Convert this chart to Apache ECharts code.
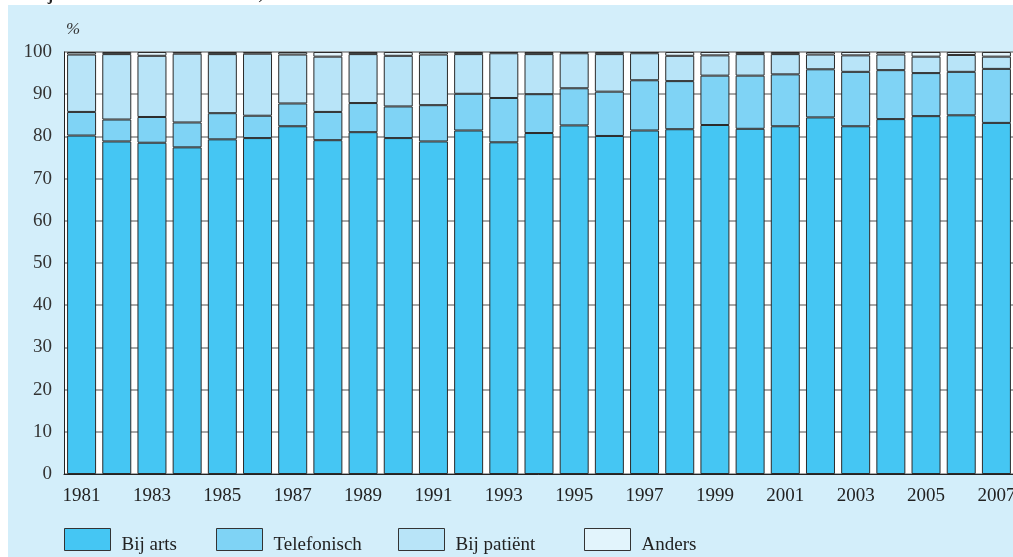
<!DOCTYPE html>
<html>
<head>
<meta charset="utf-8">
<script src="https://cdn.jsdelivr.net/npm/echarts@6/dist/echarts.min.js"></script>
<style>
  html, body { margin: 0; padding: 0; background: #ffffff; }
  #chart { width: 1013px; height: 557px; }
</style>
</head>
<body>
<div id="chart"></div>
<script>
// Wijze van contact met de huisarts, 1981-2007 (percentages per jaar)
const years = ['1981','1982','1983','1984','1985','1986','1987','1988','1989','1990',
  '1991','1992','1993','1994','1995','1996','1997','1998','1999','2000',
  '2001','2002','2003','2004','2005','2006','2007'];

const bijArts = [80.2, 78.8, 78.5, 77.4, 79.3, 79.6, 82.4, 79.1, 81.0, 79.6,
  78.8, 81.4, 78.6, 80.8, 82.6, 80.1, 81.4, 81.7, 82.7, 81.8,
  82.4, 84.5, 82.4, 84.1, 84.8, 85.0, 83.2];
const telefonisch = [5.6, 5.2, 6.1, 5.9, 6.2, 5.3, 5.4, 6.7, 6.9, 7.5,
  8.6, 8.7, 10.5, 9.2, 8.8, 10.5, 11.9, 11.4, 11.7, 12.6,
  12.3, 11.4, 12.9, 11.6, 10.2, 10.3, 12.8];
const bijPatient = [13.6, 15.5, 14.5, 16.3, 14.0, 14.7, 11.6, 13.1, 11.6, 12.0,
  12.0, 9.4, 10.6, 9.5, 8.3, 8.9, 6.4, 6.0, 4.8, 5.1,
  4.8, 3.5, 3.9, 3.7, 3.9, 4.0, 2.9];
const anders = [0.6, 0.5, 0.9, 0.4, 0.5, 0.4, 0.6, 1.1, 0.5, 0.9,
  0.6, 0.5, 0.3, 0.5, 0.3, 0.5, 0.3, 0.9, 0.8, 0.5,
  0.5, 0.6, 0.8, 0.6, 1.1, 0.7, 1.1];

const seriesNames = ['Bij arts', 'Telefonisch', 'Bij patiënt', 'Anders'];
const seriesColors = ['#45c6f3', '#7fd3f5', '#b8e4f8', '#e2f4fc'];
const yTicks = { min: 0, max: 100, step: 10 };

const serif = '"Liberation Serif", "DejaVu Serif", serif';
const chart = echarts.init(document.getElementById('chart'), null, { renderer: 'canvas' });

const values = [bijArts, telefonisch, bijPatient, anders];
const legendLefts = [64, 216, 398, 584];

const option = {
  backgroundColor: '#ffffff',
  animation: false,
  graphic: [
    { type: 'rect', z: -10, shape: { x: 8, y: 5, width: 1010, height: 560 },
      style: { fill: '#d3eefa' } },
    { type: 'text', left: 0, top: -12,
      style: { text: 'C2. Wijze van contact met de huisarts, aandelen',
        font: 'bold 16px ' + serif, fill: '#222' } },
    { type: 'text', left: 66, top: 21,
      style: { text: '%', font: 'italic 17px ' + serif, fill: '#333' } }
  ],
  grid: {
    left: 64, top: 52, width: 950, bottom: 83,
    outerBoundsMode: 'none', containLabel: false,
    show: true, backgroundColor: '#ffffff', borderWidth: 0
  },
  legend: seriesNames.map((n, i) => ({
    data: [n], left: legendLefts[i], top: 528, padding: 0,
    itemWidth: 46, itemHeight: 22, itemGap: 0,
    icon: 'rect',
    itemStyle: { borderColor: '#333', borderWidth: 1 },
    formatter: '{t|{name}}',
    textStyle: {
      fontFamily: serif, fontSize: 19, color: '#222',
      rich: { t: { fontFamily: serif, fontSize: 19, color: '#222', padding: [12, 0, 0, 6] } }
    }
  })),
  xAxis: {
    type: 'category', data: years,
    axisLine: { show: true, lineStyle: { color: '#222', width: 1 } },
    axisTick: { show: false },
    axisLabel: { interval: 1, margin: 13, fontFamily: serif, fontSize: 19, color: '#222' }
  },
  yAxis: {
    type: 'value', min: yTicks.min, max: yTicks.max, interval: yTicks.step,
    axisLine: { show: true, lineStyle: { color: '#222', width: 1 } },
    axisTick: { show: false },
    axisLabel: { margin: 12, fontFamily: serif, fontSize: 19, color: '#333' },
    splitLine: { show: true, lineStyle: { color: '#8a8a8a', width: 1.5 } }
  },
  series: seriesNames.map((n, i) => ({
    name: n, type: 'bar', stack: 'total', barWidth: 29,
    data: values[i],
    itemStyle: { color: seriesColors[i], borderColor: '#2b2b2b', borderWidth: 1 }
  }))
};

chart.setOption(option);
</script>
</body>
</html>
